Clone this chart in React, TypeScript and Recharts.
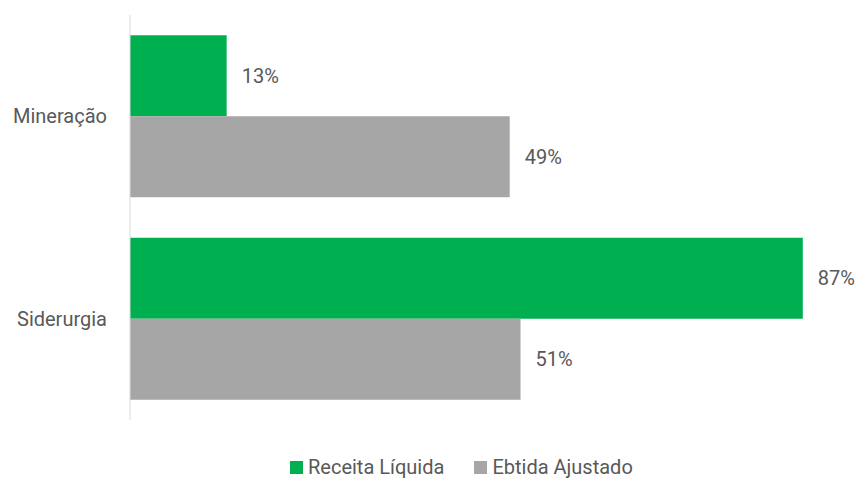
import React from "react";
import { BarChart, Bar, XAxis, YAxis, Legend, LabelList } from "recharts";

const categories = ["Mineração", "Siderurgia"];
const receitaLiquida = [12.5, 87.0];
const ebtidaAjustado = [49.1, 50.5];
const seriesNames = ["Receita Líquida", "Ebtida Ajustado"];
const seriesColors = ["#00B050", "#A6A6A6"];

const data = categories.map((c, i) => ({
  name: c,
  receita: receitaLiquida[i],
  ebtida: ebtidaAjustado[i],
}));

const FONT = "Roboto, 'Noto Sans', sans-serif";
const TEXT = "#595959";

const fmt = (v: any) => `${Math.round(Number(v))}%`;

const LegendContent = (props: any) => {
  const payload = [...(props.payload || [])].sort(
    (a: any, b: any) => seriesNames.indexOf(a.value) - seriesNames.indexOf(b.value)
  );
  return (
    <div style={{ display: "flex", alignItems: "center", marginLeft: 290, fontFamily: FONT, fontSize: 20, color: TEXT, lineHeight: "20px" }}>
      {payload.map((p: any, i: number) => (
        <div key={i} style={{ display: "flex", alignItems: "center", marginRight: 30 }}>
          <span style={{ display: "inline-block", width: 13, height: 13, background: p.color, marginRight: 5 }} />
          <span>{p.value}</span>
        </div>
      ))}
    </div>
  );
};

export default function App() {
  return (
    <div style={{ position: "absolute", left: 0, top: 0, background: "#fff" }}>
      <BarChart
        width={857}
        height={481}
        data={data}
        layout="vertical"
        margin={{ top: 15, right: 31, bottom: 41, left: 0 }}
        barCategoryGap="10%"
        barGap={0}
      >
        <XAxis type="number" domain={[0, 90]} hide />
        <YAxis
          type="category"
          dataKey="name"
          width={130}
          axisLine={{ stroke: "#D9D9D9", strokeWidth: 1 }}
          tickLine={false}
          tickSize={0}
          tickMargin={23}
          tick={{ fill: TEXT, fontSize: 20, fontFamily: FONT }}
        />
        <Legend
          verticalAlign="bottom"
          content={<LegendContent />}
          wrapperStyle={{ top: 457, left: 0, width: 857, height: 20 }}
        />
        <Bar dataKey="receita" name={seriesNames[0]} fill={seriesColors[0]} isAnimationActive={false}>
          <LabelList dataKey="receita" position="right" offset={15} formatter={fmt} style={{ fill: TEXT, fontSize: 20, fontFamily: FONT }} />
        </Bar>
        <Bar dataKey="ebtida" name={seriesNames[1]} fill={seriesColors[1]} isAnimationActive={false}>
          <LabelList dataKey="ebtida" position="right" offset={15} formatter={fmt} style={{ fill: TEXT, fontSize: 20, fontFamily: FONT }} />
        </Bar>
      </BarChart>
    </div>
  );
}
